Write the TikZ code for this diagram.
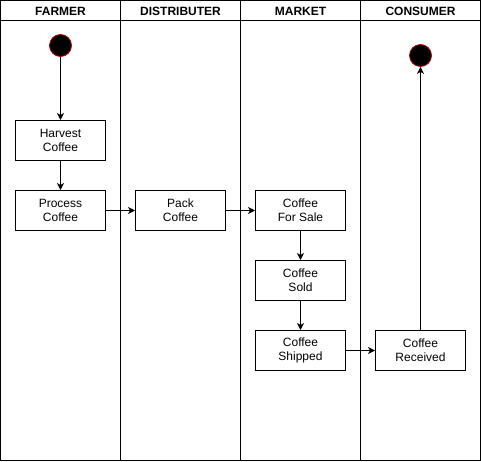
\documentclass[tikz,border=0pt]{standalone}
\usepackage{fontspec}
\setmainfont{Liberation Sans}
\usetikzlibrary{arrows.meta}
\begin{document}
\begin{tikzpicture}[x=1pt,y=-1pt,
  lane/.style={draw,line width=1.3pt},
  hdr/.style={font=\fontsize{12}{14}\selectfont\bfseries},
  act/.style={draw,line width=1pt,minimum width=90pt,minimum height=40pt,align=center,font=\fontsize{12}{14}\selectfont,inner sep=0pt},
  dot/.style={circle,fill=black,draw={rgb,255:red,180;green,0;blue,0},line width=0.8pt,minimum size=22pt,inner sep=0pt},
  flow/.style={line width=1pt,-{Stealth[length=7pt,width=7pt,inset=2pt]}}]
\useasboundingbox (-0.5,-0.5) rectangle (480.5,460.5);
\fill[white] (-0.5,-0.5) rectangle (480.5,460.5);
% lanes
\foreach \i/\t in {0/FARMER,1/DISTRIBUTER,2/MARKET,3/CONSUMER}{
  \draw[lane] (\i*120,0) rectangle (\i*120+120,460);
  \draw[lane] (\i*120,20) -- (\i*120+120,20);
  \node[hdr] (h\i) at (\i*120+60,10.5) {\t};
}
\node[dot] (start) at (60,45) {};
\node[dot] (end) at (420,55) {};
\node[act] (harvest) at (60,140) {Harvest\\Coffee};
\node[act] (process) at (60,210) {Process\\Coffee};
\node[act] (pack) at (180,210) {Pack\\Coffee};
\node[act] (sale) at (300,210) {Coffee\\For Sale};
\node[act] (sold) at (300,280) {Coffee\\Sold};
\node[act] (shipped) at (300,350) {Coffee\\Shipped};
\node[act] (received) at (420,350) {Coffee\\Received};
\draw[flow] (start) -- (harvest);
\draw[flow] (harvest) -- (process);
\draw[flow] (process) -- (pack);
\draw[flow] (pack) -- (sale);
\draw[flow] (sale) -- (sold);
\draw[flow] (sold) -- (shipped);
\draw[flow] (shipped) -- (received);
\draw[flow] (received) -- (end);
\end{tikzpicture}
\end{document}
